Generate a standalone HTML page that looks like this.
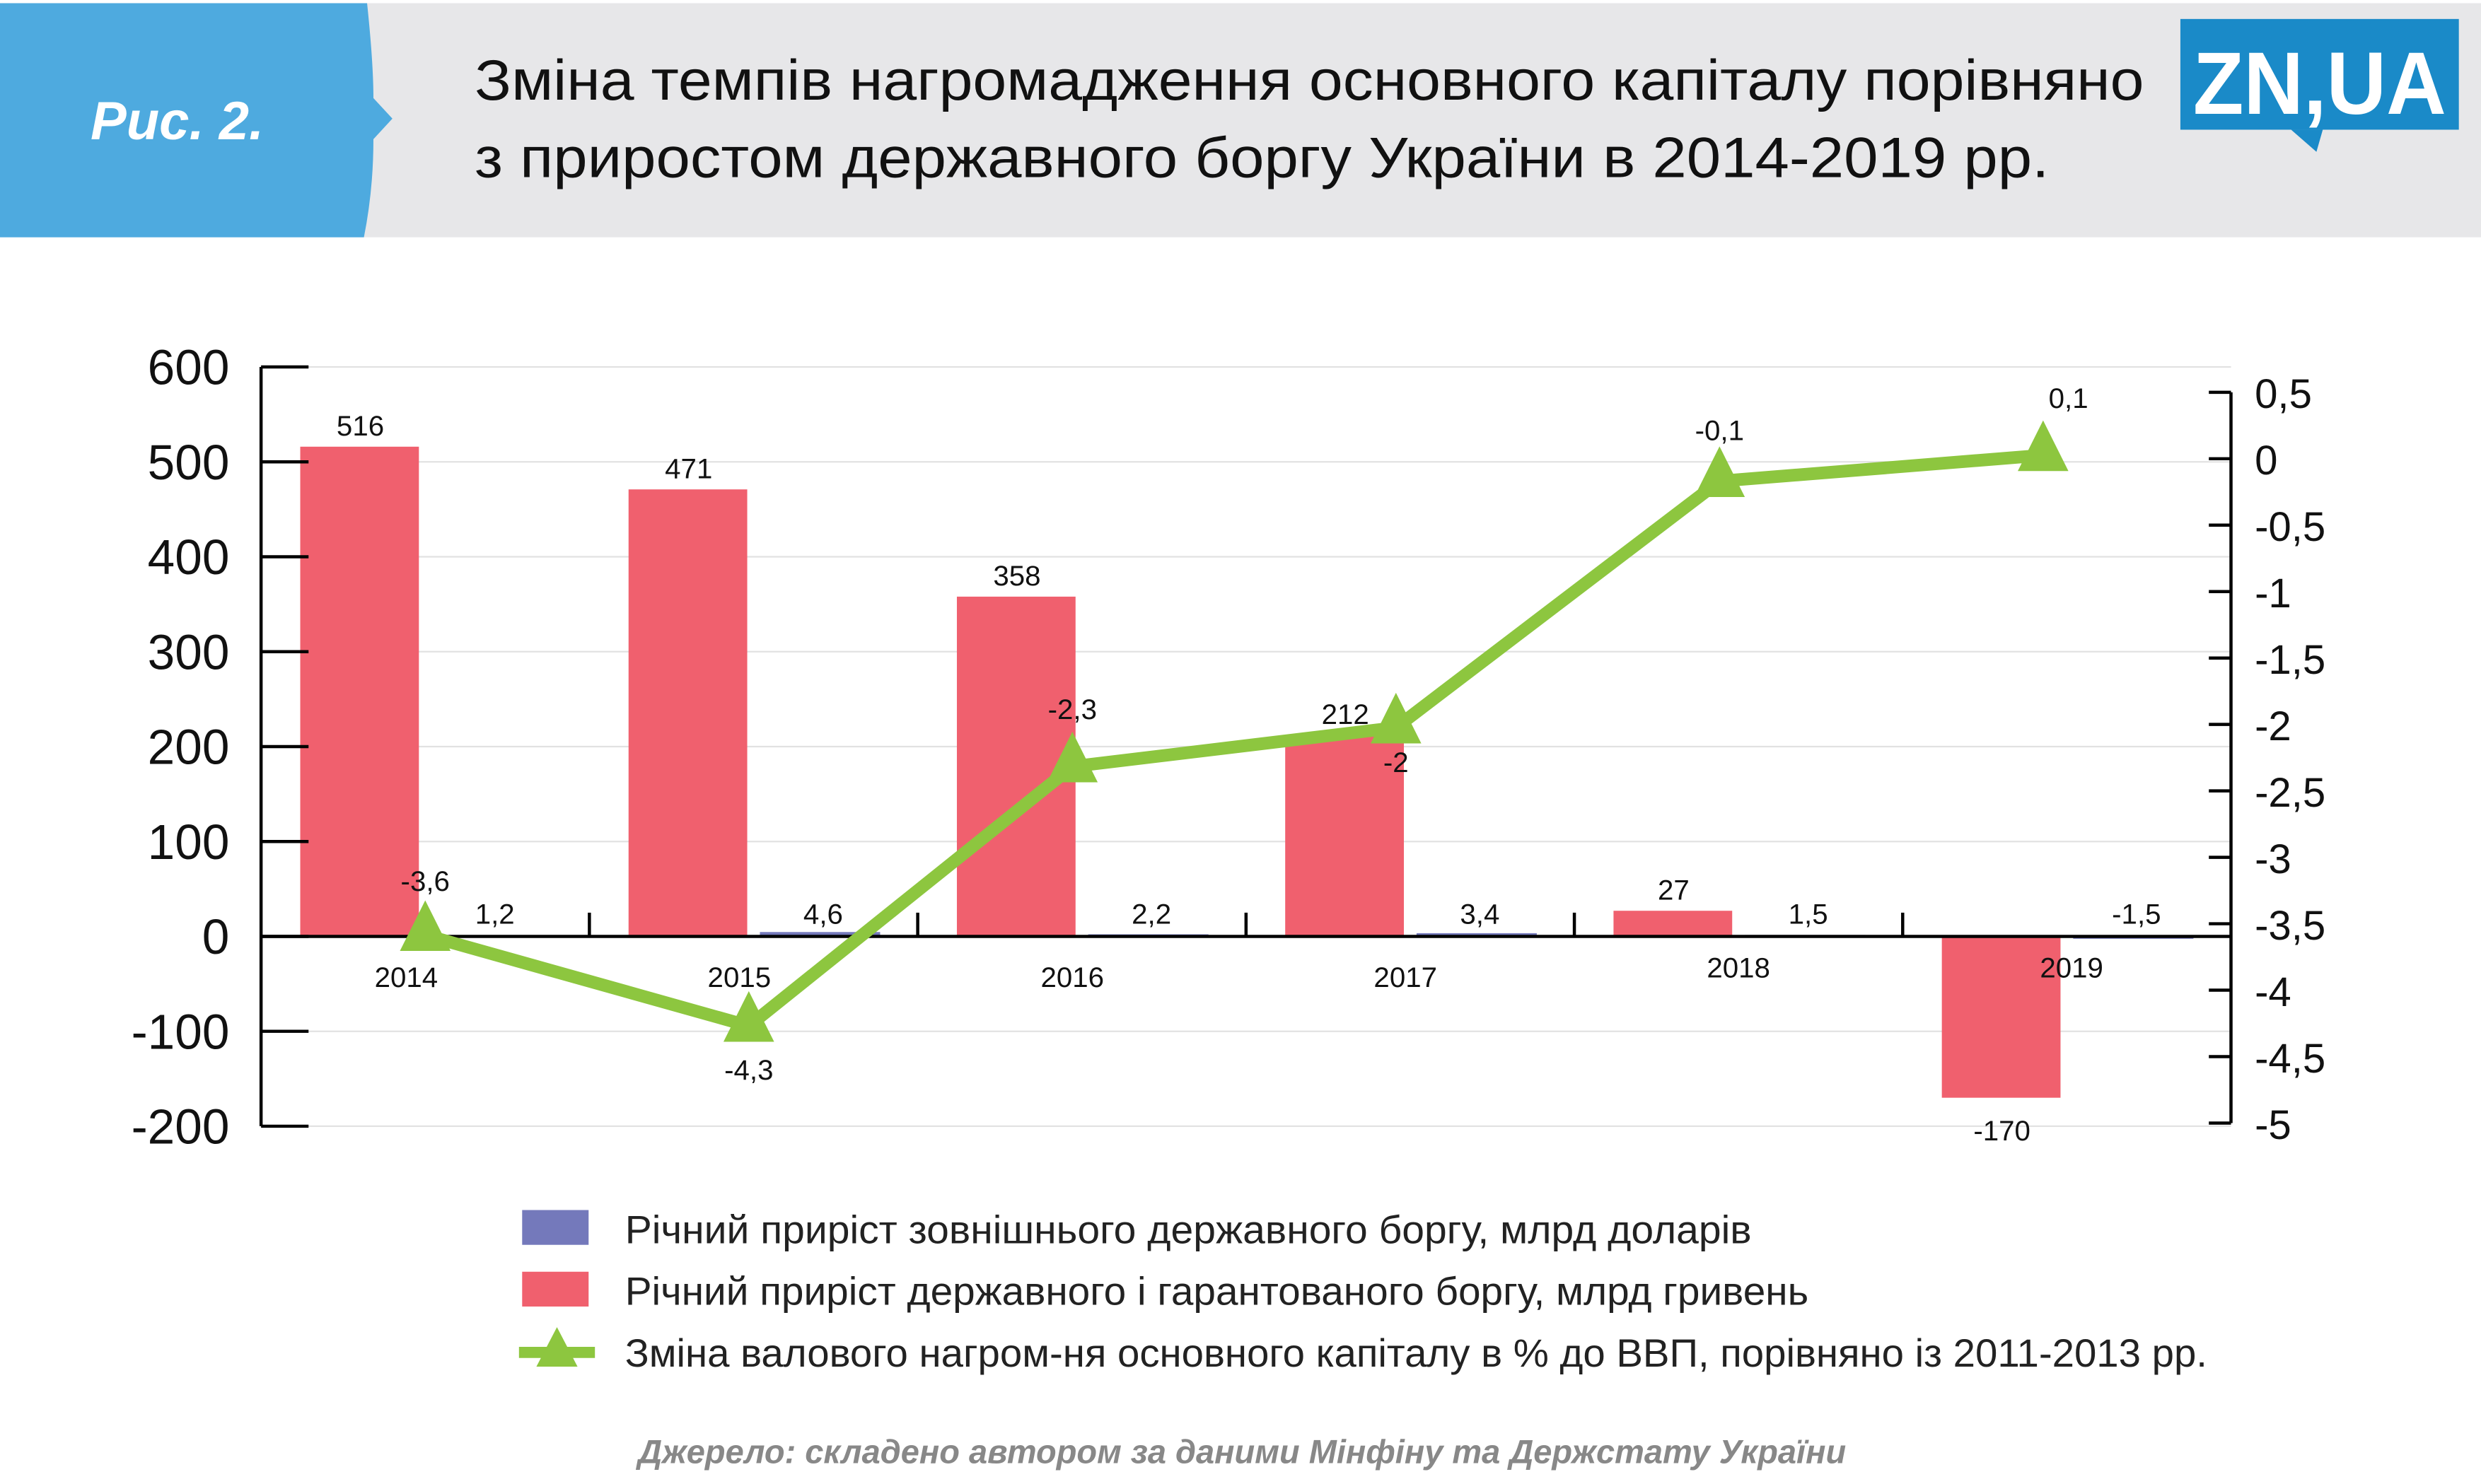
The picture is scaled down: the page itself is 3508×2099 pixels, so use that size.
<!DOCTYPE html>
<html><head><meta charset="utf-8"><style>
html,body{margin:0;padding:0;background:#fff;}
svg{display:block;}
text{font-family:"Liberation Sans",sans-serif;}
</style></head><body>
<svg id="chart" width="3508" height="2099" viewBox="0 0 1568 938.2" preserveAspectRatio="none" xmlns="http://www.w3.org/2000/svg">
<rect x="0" y="2" width="1568" height="148" fill="#e7e7e9"/>
<path d="M0 2 H232 Q236 40 236 62 L248 75 L236 88 Q236 120 230 150 H0 Z" fill="#4eaadf"/>
<text x="112" y="88" font-size="34" font-style="italic" font-weight="bold" fill="#fff" text-anchor="middle">Рис. 2.</text>
<text font-size="36" fill="#111"><tspan x="300" y="63" textLength="1055" lengthAdjust="spacingAndGlyphs">Зміна темпів нагромадження основного капіталу порівняно</tspan><tspan x="300" y="112" textLength="995" lengthAdjust="spacingAndGlyphs">з приростом державного боргу України в 2014-2019 рр.</tspan></text>
<g>
<rect x="1378" y="12" width="176" height="70" fill="#1a8ac8"/>
<path d="M1448 82 L1464 96 L1468 82 Z" fill="#1a8ac8"/>
<text x="1466" y="72" font-size="56" font-weight="bold" fill="#fff" text-anchor="middle" textLength="160" lengthAdjust="spacingAndGlyphs">ZN,UA</text>
</g>
<g id="grid"></g>
<g id="bars"></g>
<g id="axes"></g>
<g id="line"></g>
<g>
<rect x="330" y="765" width="42" height="22" fill="#7479bb"/>
<text x="395" y="786" font-size="25" fill="#222" textLength="712" lengthAdjust="spacingAndGlyphs">Річний приріст зовнішнього державного боргу, млрд доларів</text>
<rect x="330" y="804" width="42" height="22" fill="#f0606e"/>
<text x="395" y="825" font-size="25" fill="#222" textLength="748" lengthAdjust="spacingAndGlyphs">Річний приріст державного і гарантованого боргу, млрд гривень</text>
<line x1="328" y1="855" x2="376" y2="855" stroke="#8dc63f" stroke-width="7"/>
<path d="M352 839 L365 864 L339 864 Z" fill="#8dc63f"/>
<text x="395" y="864" font-size="25" fill="#222" textLength="1000" lengthAdjust="spacingAndGlyphs">Зміна валового нагром-ня основного капіталу в % до ВВП, порівняно із 2011-2013 рр.</text>
</g>
<text x="785" y="925" font-size="21" font-style="italic" font-weight="bold" fill="#888" text-anchor="middle">Джерело: складено автором за даними Мінфіну та Держстату України</text>
</svg>
<script>
const years=["2014","2015","2016","2017","2018","2019"];
const totalDebt=[516,471,358,212,27,-170];
const externalDebt=[1.2,4.6,2.2,3.4,1.5,-1.5];
const capitalChange=[-3.6,-4.3,-2.3,-2,-0.1,0.1];
const leftTicks=[600,500,400,300,200,100,0,-100,-200];
const rightTicks=[0.5,0,-0.5,-1,-1.5,-2,-2.5,-3,-3.5,-4,-4.5,-5];
const rightTickLabels=["0,5","0","-0,5","-1","-1,5","-2","-2,5","-3","-3,5","-4","-4,5","-5"];
const NS="http://www.w3.org/2000/svg";
const X0=165,X1=1410,band=(X1-X0)/years.length;
function yL(v){return 592-v*0.6;}
function yR(v){return 290-v*84;}
function yLine(v){return 296-v*82;}
function cx(i){return X0+band*(i+0.5);}
function mk(tag,attrs,parent,txt){const e=document.createElementNS(NS,tag);for(const k in attrs)e.setAttribute(k,attrs[k]);if(txt!==undefined)e.textContent=txt;parent.appendChild(e);return e;}
const grid=document.getElementById('grid'),bars=document.getElementById('bars'),axes=document.getElementById('axes'),line=document.getElementById('line');
leftTicks.forEach(v=>{
  const g=mk('line',{x1:X0,x2:X1,y1:yL(v),y2:yL(v),stroke:'#e2e2e2','stroke-width':1},grid);
  
  
  const t=mk('line',{x1:X0,x2:X0+30,y1:yL(v),y2:yL(v),stroke:'#000','stroke-width':2},axes);
  
  
  const l=mk('text',{x:145,y:yL(v)+11,'font-size':31,'text-anchor':'end',fill:'#111'},axes,String(v));
  
  
});
rightTicks.forEach((v,i)=>{
  const t=mk('line',{x1:X1-14,x2:X1,y1:yR(v),y2:yR(v),stroke:'#000','stroke-width':2},axes);
  
  
  const l=mk('text',{x:1425,y:yR(v)+10,'font-size':26,fill:'#111'},axes,rightTickLabels[i]);
  
  
});
mk('line',{x1:X0,x2:X0,y1:yL(600),y2:yL(-200),stroke:'#000','stroke-width':2},axes);
mk('line',{x1:X1,x2:X1,y1:yR(0.5),y2:yR(-5),stroke:'#000','stroke-width':2},axes);
mk('line',{x1:X0,x2:X1,y1:yL(0),y2:yL(0),stroke:'#000','stroke-width':2},axes);
years.forEach((y,i)=>{
  if(i>0){const t=mk('line',{x1:X0+band*i,x2:X0+band*i,y1:yL(0)-15,y2:yL(0),stroke:'#000','stroke-width':2},axes);
  
  }
  const c=cx(i);
  const v=totalDebt[i];
  const r=mk('rect',{x:c-79,width:75,y:Math.min(yL(v),yL(0)),height:Math.abs(yL(v)-yL(0)),fill:'#f0606e'},bars);
  
  
  const rl=mk('text',{x:c-41,y:v>=0?yL(v)-7:yL(v)+27,'font-size':18,'text-anchor':'middle',fill:'#111'},bars,String(v));
  
  
  const e=externalDebt[i];
  const b=mk('rect',{x:c+4,width:76,y:Math.min(yL(e),yL(0)),height:Math.max(1.5,Math.abs(yL(e)-yL(0))),fill:'#7479bb'},bars);
  
  
  const bl=mk('text',{x:c+44,y:yL(0)-8,'font-size':18,'text-anchor':'middle',fill:'#111'},bars,String(e).replace('.',','));
  
  
  const yl=mk('text',{x:c-12+i*3,y:i>=4?618:624,'font-size':18,'text-anchor':'middle',fill:'#111'},axes,y);
  
  
});
const pts=capitalChange.map((v,i)=>[cx(i)-i*3,yLine(v)]);
const pl=mk('polyline',{points:pts.map(p=>p.join(',')).join(' '),fill:'none',stroke:'#8dc63f','stroke-width':8,'stroke-linejoin':'round'},line);


const lblOff=[-22,28,-24,22,-20,-24];
pts.forEach((p,i)=>{
  const m=mk('path',{d:`M${p[0]} ${p[1]-22} L${p[0]+16} ${p[1]+10} L${p[0]-16} ${p[1]+10} Z`,fill:'#8dc63f'},line);
  
  
  const t=mk('text',{x:p[0]+(i===5?16:0),y:p[1]+lblOff[i]+(lblOff[i]<0?-6:6),'font-size':18,'text-anchor':'middle',fill:'#111'},line,String(capitalChange[i]).replace('.',','));
  
  
});
</script>
</body></html>
